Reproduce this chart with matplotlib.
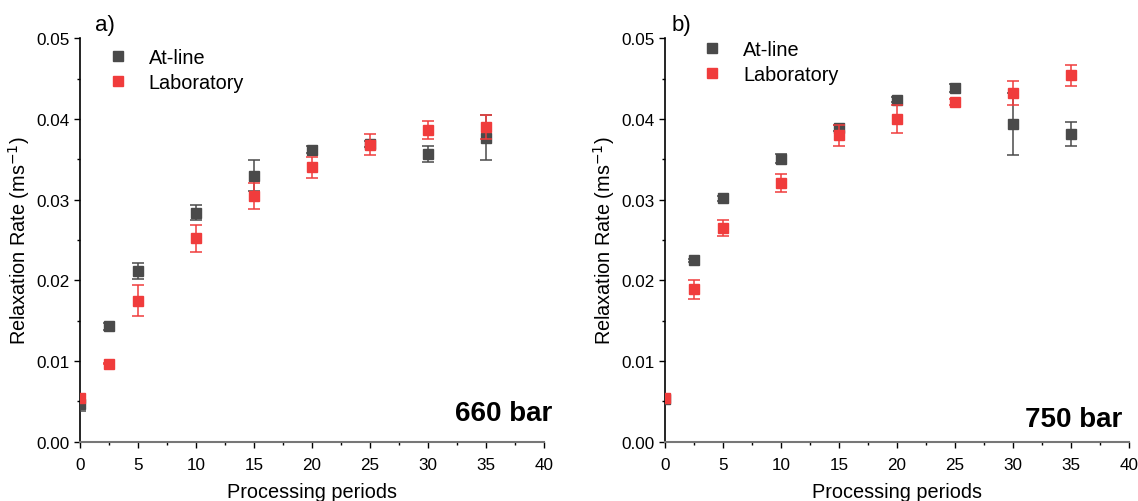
import numpy as np
import matplotlib
matplotlib.use('Agg')
import matplotlib.pyplot as plt

plt.rcParams['font.family'] = ['Liberation Sans', 'DejaVu Sans']

periods = [0, 2.5, 5, 10, 15, 20, 25, 30, 35]

# 660 bar
atline_660 = [0.0047, 0.0143, 0.0212, 0.0284, 0.0330, 0.0362, 0.0369, 0.0357, 0.0377]
atline_660_err = [0.0009, 0.0004, 0.0010, 0.0009, 0.0019, 0.0004, 0.0004, 0.0010, 0.0028]
lab_660 = [0.0054, 0.0097, 0.0175, 0.0252, 0.0305, 0.0340, 0.0368, 0.0386, 0.0390]
lab_660_err = [0.0003, 0.0001, 0.0019, 0.0017, 0.0016, 0.0013, 0.0013, 0.0011, 0.0015]

# 750 bar
atline_750 = [0.0053, 0.0225, 0.0302, 0.0351, 0.0389, 0.0424, 0.0438, 0.0394, 0.0381]
atline_750_err = [0.0002, 0.0002, 0.0003, 0.0006, 0.0004, 0.0003, 0.0005, 0.0038, 0.0015]
lab_750 = [0.0054, 0.0189, 0.0265, 0.0321, 0.0380, 0.0400, 0.0421, 0.0432, 0.0454]
lab_750_err = [0.0002, 0.0012, 0.0010, 0.0011, 0.0013, 0.0017, 0.0004, 0.0015, 0.0013]

dark = '#4a4a4a'
red = '#f03c3c'

fig = plt.figure(figsize=(11.38, 5.02), dpi=100)
ax1 = fig.add_axes([0.0703, 0.118, 0.4077, 0.8036])
ax2 = fig.add_axes([0.5844, 0.118, 0.4077, 0.8036])

def panel(ax, at, at_err, lab, lab_err, letter, letter_x, pressure, p_xy, leg_xy):
    ax.errorbar(periods, at, yerr=at_err, fmt='s', color=dark, ms=7.5, capsize=4,
                elinewidth=1.1, capthick=1.1, label='At-line', zorder=3)
    ax.errorbar(periods, lab, yerr=lab_err, fmt='s', color=red, ms=7.5, capsize=4,
                elinewidth=1.1, capthick=1.1, label='Laboratory', zorder=4)
    ax.set_xlim(0, 40)
    ax.set_ylim(0, 0.05)
    ax.set_xticks(np.arange(0, 41, 5))
    ax.set_xticks(np.arange(0, 41, 2.5), minor=True)
    ax.set_yticks(np.arange(0, 0.051, 0.01))
    ax.set_yticks(np.arange(0, 0.051, 0.005), minor=True)
    ax.yaxis.set_major_formatter(matplotlib.ticker.FormatStrFormatter('%.2f'))
    ax.spines['top'].set_visible(False)
    ax.spines['right'].set_visible(False)
    ax.spines['bottom'].set_color('#777777')
    ax.spines['bottom'].set_linewidth(1.5)
    ax.spines['left'].set_linewidth(1.2)
    ax.tick_params(axis='both', which='major', labelsize=12.3, length=4, width=1)
    ax.tick_params(axis='x', which='major', pad=7)
    ax.tick_params(axis='both', which='minor', length=2.5, width=1)
    ax.set_xlabel('Processing periods', fontsize=14.3, labelpad=7)
    ax.set_ylabel('Relaxation Rate (ms$^{-1}$)', fontsize=14.3, labelpad=3)
    ax.text(letter_x, 1.035, letter, transform=ax.transAxes, fontsize=16, va='center')
    ax.text(p_xy[0], p_xy[1], pressure, transform=ax.transAxes, fontsize=20,
            fontweight='bold', ha='right', va='center')
    h, l = ax.get_legend_handles_labels()
    ax.legend([x[0] for x in h], l, loc='upper left', bbox_to_anchor=leg_xy,
              frameon=False, fontsize=14.3, handletextpad=1.05, labelspacing=0.3,
              handlelength=1.0)

panel(ax1, atline_660, atline_660_err, lab_660, lab_660_err, 'a)', 0.032,
      '660 bar', (1.018, 0.071), (0.022, 1.02))
panel(ax2, atline_750, atline_750_err, lab_750, lab_750_err, 'b)', 0.015,
      '750 bar', (0.985, 0.056), (0.0415, 1.04))

fig.savefig('out.png', dpi=100)
